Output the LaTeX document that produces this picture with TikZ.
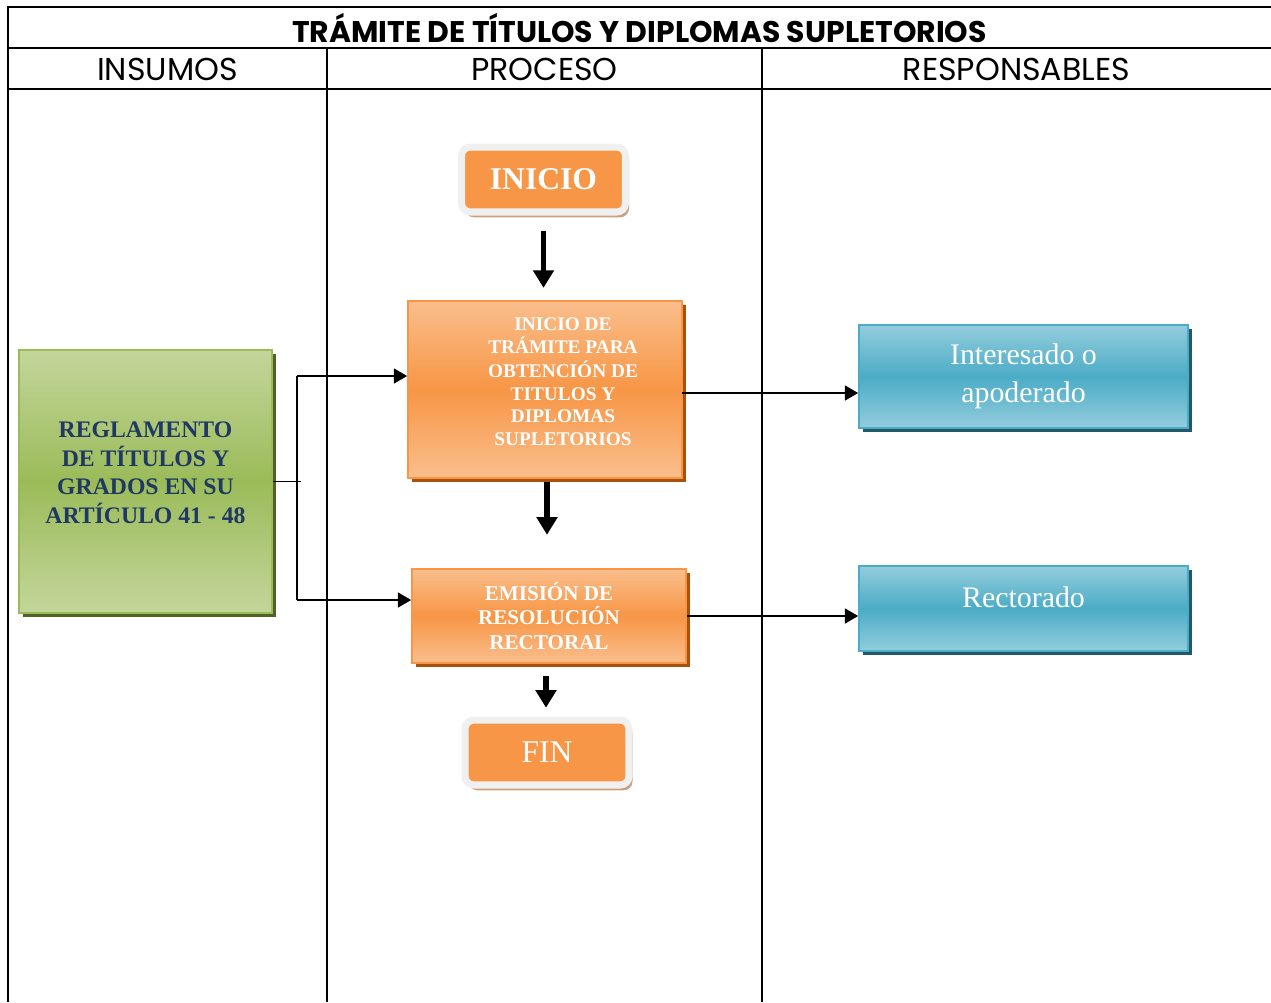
\documentclass[tikz,border=0pt]{standalone}
\usepackage{fontspec}
\setmainfont{Liberation Serif}
\newfontfamily\gothicfont{Poppins}
\usetikzlibrary{arrows.meta, shadows}

\definecolor{naranja}{RGB}{247,150,70}
\definecolor{naranjaclaro}{RGB}{250,190,140}
\definecolor{naranjasombra}{RGB}{170,80,10}
\definecolor{verde}{RGB}{155,187,89}
\definecolor{verdeclaro}{RGB}{195,214,155}
\definecolor{verdesombra}{RGB}{79,98,40}
\definecolor{azul}{RGB}{75,172,198}
\definecolor{azulclaro}{RGB}{147,205,221}
\definecolor{azulsombra}{RGB}{33,89,104}
\definecolor{marco}{RGB}{240,240,240}
\definecolor{marcosombra}{RGB}{205,160,125}
\definecolor{textoverde}{RGB}{31,56,100}

\tikzset{
  linea/.style={line width=0.6pt},
  caja/.style={draw=naranja, line width=1pt, top color=naranjaclaro, bottom color=naranjaclaro, middle color=naranja,
    text=white, font=\bfseries, align=center,
    general shadow={shadow xshift=2.5pt, shadow yshift=-2.5pt, fill=naranjasombra}},
  insumo/.style={draw=verde, line width=1pt, top color=verdeclaro, bottom color=verdeclaro, middle color=verde,
    text=textoverde, font=\bfseries\fontsize{13.5}{16}\selectfont, align=center,
    general shadow={shadow xshift=2.5pt, shadow yshift=-2.5pt, fill=verdesombra}},
  responsable/.style={draw=azul, line width=1pt, top color=azulclaro, bottom color=azulclaro, middle color=azul,
    text=white, font=\fontsize{17}{21.5}\selectfont, align=center,
    general shadow={shadow xshift=2.5pt, shadow yshift=-2.5pt, fill=azulsombra}},
  terminal/.style={draw=marco, line width=4pt, fill=naranja, rounded corners=5pt, text=white,
    minimum width=3.28cm, minimum height=1.3cm,
    general shadow={shadow xshift=2pt, shadow yshift=-3pt, fill=marcosombra}},
  flechagruesa/.style={line width=3pt, -{Triangle[length=10pt, width=11.5pt]}},
  flechafina/.style={line width=0.85pt, -{Triangle[length=7.5pt, width=8.5pt]}}
}

\begin{document}
\begin{tikzpicture}[x=0.02cm, y=-0.02cm]
  \useasboundingbox (0,0) rectangle (1271,1002);

  % tabla
  \draw[linea] (8,1002) -- (8,7) -- (1271,7);
  \draw[linea] (8,48) -- (1271,48);
  \draw[linea] (8,89) -- (1271,89);
  \draw[line width=1.1pt] (327,48) -- (327,1002);
  \draw[linea] (762,48) -- (762,1002);

  \node (titulo) at (639.5,28) {\gothicfont\bfseries\fontsize{17}{20}\selectfont TRÁMITE DE TÍTULOS Y DIPLOMAS SUPLETORIOS};
  \node (insumos) at (167.5,69) {\gothicfont\fontsize{18}{20}\selectfont INSUMOS};
  \node (proceso) at (544.5,69) {\gothicfont\fontsize{18}{20}\selectfont PROCESO};
  \node (responsables) at (1016.5,69) {\gothicfont\fontsize{18}{20}\selectfont RESPONSABLES};

  % proceso
  \node[terminal, font=\bfseries\fontsize{18}{20}\selectfont] (inicio) at (543.5,179.5) {INICIO};
  \node[caja, minimum width=5.48cm, minimum height=3.54cm, font=\bfseries\fontsize{11}{13}\selectfont] (caja1) at (545,389.5)
    {\hspace*{0.72cm}\begin{tabular}{@{}c@{}}INICIO DE\\TRÁMITE PARA\\OBTENCIÓN DE\\TITULOS Y\\DIPLOMAS\\SUPLETORIOS\\[0.24cm]\end{tabular}};
  \node[caja, minimum width=5.48cm, minimum height=1.88cm, font=\bfseries\fontsize{12}{14}\selectfont] (caja2) at (549,616)
    {EMISIÓN DE\\RESOLUCIÓN\\RECTORAL};
  \node[terminal, font=\fontsize{18}{20}\selectfont] (fin) at (547,752.5) {FIN};

  \draw[flechagruesa, shorten <=9pt, shorten >=7pt] (inicio) -- (inicio |- caja1.north);
  \draw[flechagruesa, shorten <=2pt, shorten >=19pt] (caja1.south -| 547,0) -- (caja2.north -| 547,0);
  \draw[flechagruesa, shorten <=7pt, shorten >=5pt] (caja2.south -| 546,0) -- (fin.north -| 546,0);

  % insumos
  \node[insumo, minimum width=5.06cm, minimum height=5.26cm] (reglamento) at (145.5,481.5)
    {\begin{tabular}{@{}c@{}}REGLAMENTO\\DE TÍTULOS Y\\GRADOS EN SU\\ARTÍCULO 41 - 48\\[0.26cm]\end{tabular}};
  \coordinate (cruce) at (301,484);
  \coordinate (rama1) at (297,376);
  \coordinate (rama2) at (297,600);
  \draw[line width=0.85pt] (reglamento.east) -- (reglamento.east -| cruce);
  \draw[line width=0.85pt] (rama1) -- (rama2);
  \draw[flechafina] (rama1) -- (rama1 -| caja1.west);
  \draw[flechafina] (rama2) -- (rama2 -| caja2.west);

  % responsables
  \node[responsable, minimum width=6.58cm, minimum height=2.06cm] (interesado) at (1023.5,376.5) {Interesado o\\apoderado};
  \node[responsable, minimum width=6.58cm, minimum height=1.7cm] (rectorado) at (1023.5,608.5) {\raisebox{0.46cm}{Rectorado}};
  \coordinate (salida1) at (682,393);
  \draw[flechafina] (salida1) -- (salida1 -| interesado.west);
  \draw[flechafina] (caja2.east) -- (caja2.east -| rectorado.west);
\end{tikzpicture}
\end{document}
